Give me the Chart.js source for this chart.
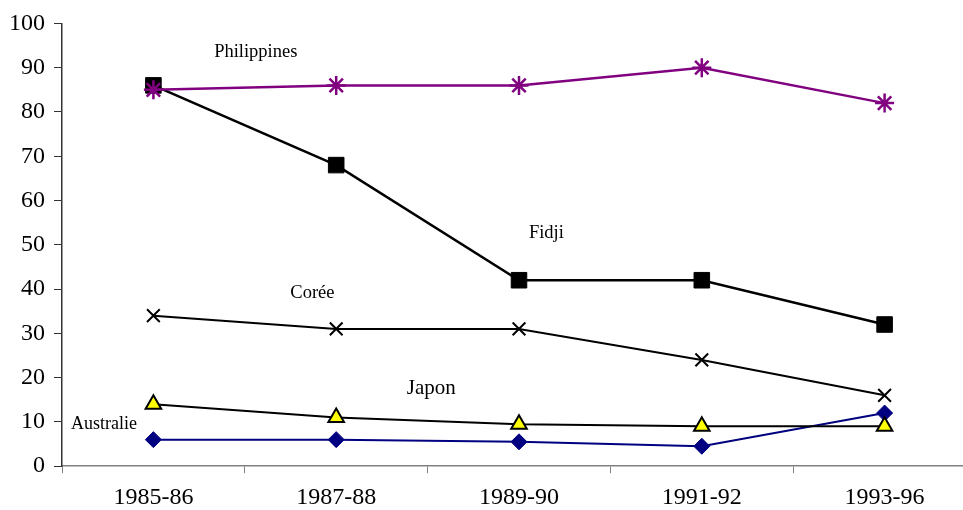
<!DOCTYPE html>
<html>
<head>
<meta charset="utf-8">
<script src="https://cdn.jsdelivr.net/npm/chart.js@4"></script>
<style>
  html, body { margin: 0; padding: 0; background: #fff; overflow: hidden; }
  #wrap { width: 988px; height: 522px; }
</style>
</head>
<body>
<div id="wrap"><canvas id="chart" width="988" height="522"></canvas></div>
<script>
const periods = ["1985-86", "1987-88", "1989-90", "1991-92", "1993-96"];
const philippines = [85, 86, 86, 90, 82];
const fidji = [86, 68, 42, 42, 32];
const coree = [34, 31, 31, 24, 16];
const japon = [14, 11, 9.5, 9, 9];
const australie = [6, 6, 5.5, 4.5, 12];

// series name labels placed in data space: [text, x index, y value, font size]
const seriesLabels = [
  ["Philippines", 0.56, 93.4, 18.5],
  ["Fidji", 2.15, 52.7, 18.5],
  ["Corée", 0.87, 39.1, 18.5],
  ["Japon", 1.52, 17.6, 21],
  ["Australie", -0.27, 9.5, 18]
];

const labelPlugin = {
  id: "seriesLabels",
  afterDatasetsDraw(chart) {
    const { ctx, scales } = chart;
    ctx.save();
    ctx.fillStyle = "#000";
    ctx.textAlign = "center";
    ctx.textBaseline = "middle";
    seriesLabels.forEach(([t, xi, yv, fs]) => {
      const x0 = scales.x.getPixelForValue(0);
      const x1 = scales.x.getPixelForValue(1);
      ctx.font = fs + "px 'Liberation Serif'";
      ctx.fillText(t, x0 + (x1 - x0) * xi, scales.y.getPixelForValue(yv));
    });
    ctx.restore();
  }
};

new Chart(document.getElementById("chart"), {
  type: "line",
  data: {
    labels: periods,
    datasets: [
      { label: "Philippines", data: philippines, borderColor: "#800080", borderWidth: 2.5,
        pointStyle: "star", pointRadius: 9.5, pointBorderColor: "#800080", pointBorderWidth: 2.5, pointBackgroundColor: "#800080" },
      { label: "Fidji", data: fidji, borderColor: "#000", borderWidth: 2.5,
        pointStyle: "rect", pointRadius: 11, pointBorderColor: "#000", pointBackgroundColor: "#000", pointBorderWidth: 1 },
      { label: "Corée", data: coree, borderColor: "#000", borderWidth: 2,
        pointStyle: "crossRot", pointRadius: 9, pointBorderColor: "#000", pointBorderWidth: 2 },
      { label: "Japon", data: japon, borderColor: "#000", borderWidth: 2,
        pointStyle: "triangle", pointRadius: 9, pointBorderColor: "#000", pointBackgroundColor: "#ffff00", pointBorderWidth: 2 },
      { label: "Australie", data: australie, borderColor: "#000080", borderWidth: 2,
        pointStyle: "rectRot", pointRadius: 8, pointBorderColor: "#000080", pointBackgroundColor: "#000080", pointBorderWidth: 1 }
    ]
  },
  options: {
    responsive: false,
    animation: false,
    layout: { padding: { top: 17, left: 0, right: 2, bottom: 0 } },
    plugins: { legend: { display: false }, tooltip: { enabled: false } },
    elements: { line: { tension: 0 } },
    scales: {
      x: {
        offset: true,
        grid: { offset: true, drawOnChartArea: false, drawTicks: true, tickLength: 7, color: "#808080" },
        border: { color: "#808080", width: 1.5 },
        ticks: { color: "#000", font: { family: "'Liberation Serif'", size: 24 }, padding: 10, maxRotation: 0 }
      },
      y: {
        min: 0, max: 100,
        grid: { drawOnChartArea: false, tickLength: 8, color: "#333" },
        border: { color: "#333", width: 1.5 },
        ticks: { stepSize: 10, color: "#000", font: { family: "'Liberation Serif'", size: 24 }, padding: 9 }
      }
    }
  },
  plugins: [labelPlugin]
});
</script>
</body>
</html>
